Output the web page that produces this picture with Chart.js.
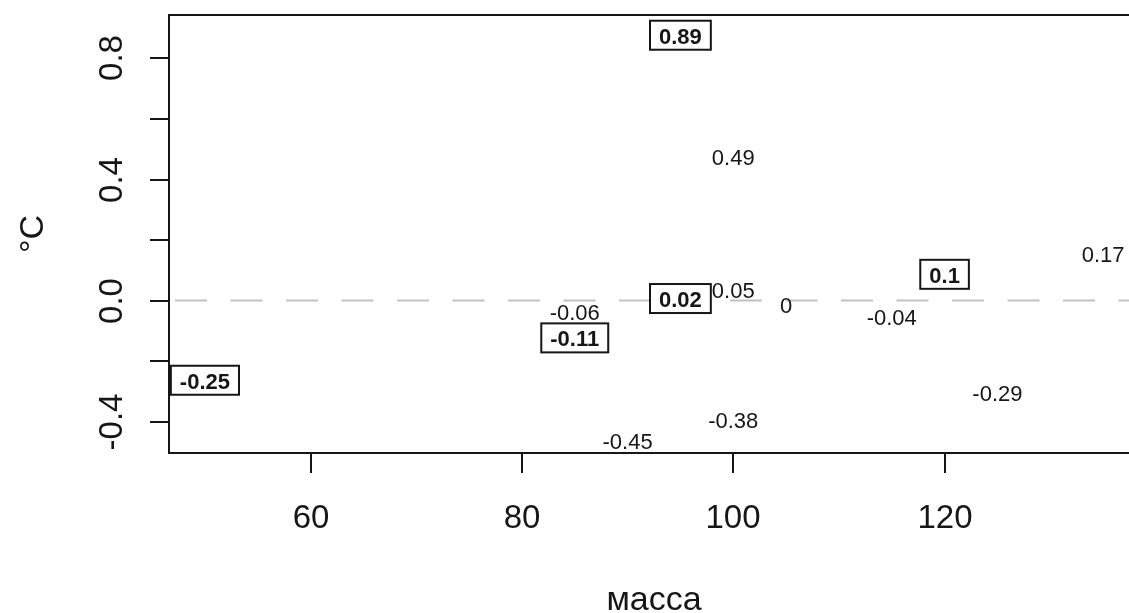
<!DOCTYPE html>
<html>
<head>
<meta charset="utf-8">
<script src="https://cdn.jsdelivr.net/npm/chart.js@4.4.1/dist/chart.umd.min.js"></script>
<style>
  html, body { margin: 0; padding: 0; background: #ffffff; overflow: hidden; }
  #wrap { position: relative; width: 1180px; height: 613px; }
</style>
</head>
<body>
<div id="wrap"><canvas id="chart"></canvas></div>
<script>
// Mass of each sample and its temperature deviation (°C)
const masses = [50, 85, 85, 90, 95, 95, 100, 100, 100, 105, 115, 120, 125, 135];
const deltas = [-0.25, -0.06, -0.11, -0.45, 0.89, 0.02, 0.49, 0.05, -0.38, 0, -0.04, 0.1, -0.29, 0.17];
// Samples whose label is shown in a framed, bold box
const highlighted = [true, false, true, false, true, true, false, false, false, false, false, true, false, false];

// Axis ticks
const xTicks = [60, 80, 100, 120];
const yTicks = [-0.4, -0.2, 0, 0.2, 0.4, 0.6, 0.8];
const yTickLabels = ['-0.4', '', '0.0', '', '0.4', '', '0.8'];

const xTitle = 'масса';
const yTitle = '°C';

// Axis limits padded by 4% of the data range on each side
function paddedRange(values) {
  const lo = Math.min(...values), hi = Math.max(...values);
  const pad = (hi - lo) * 0.04;
  return [lo - pad, hi + pad];
}
const [xMin, xMax] = paddedRange(masses);
const [yMin, yMax] = paddedRange(deltas);

const FONT = '"Liberation Sans", Arial, Helvetica, sans-serif';
const INK = '#161616';

// Frame, tick marks, tick labels and axis titles
const frameAxes = {
  id: 'frameAxes',
  beforeDatasetsDraw(chart) {
    const { ctx, chartArea: ca, scales: { x, y } } = chart;
    ctx.save();
    ctx.strokeStyle = INK;
    ctx.fillStyle = INK;
    ctx.lineWidth = 2;
    ctx.strokeRect(ca.left, ca.top, ca.right - ca.left, ca.bottom - ca.top);

    ctx.font = '33px ' + FONT;
    ctx.textAlign = 'center';
    ctx.textBaseline = 'alphabetic';
    xTicks.forEach(v => {
      const px = Math.round(x.getPixelForValue(v));
      ctx.beginPath();
      ctx.moveTo(px, ca.bottom);
      ctx.lineTo(px, ca.bottom + 20);
      ctx.stroke();
      ctx.fillText(String(v), px, ca.bottom + 75);
    });

    yTicks.forEach((v, i) => {
      const py = Math.round(y.getPixelForValue(v));
      ctx.beginPath();
      ctx.moveTo(ca.left - 19, py);
      ctx.lineTo(ca.left, py);
      ctx.stroke();
      if (yTickLabels[i]) {
        ctx.save();
        ctx.translate(ca.left - 47, py);
        ctx.rotate(-Math.PI / 2);
        ctx.fillText(yTickLabels[i], 0, 0);
        ctx.restore();
      }
    });

    ctx.font = '34px ' + FONT;
    ctx.fillText(xTitle, (ca.left + ca.right) / 2, 610);
    ctx.save();
    ctx.translate(43, (ca.top + ca.bottom) / 2);
    ctx.rotate(-Math.PI / 2);
    ctx.fillText(yTitle, 0, 0);
    ctx.restore();
    ctx.restore();
  }
};

// Value labels at each sample position
const valueLabels = {
  id: 'valueLabels',
  afterDatasetsDraw(chart) {
    const { ctx } = chart;
    const meta = chart.getDatasetMeta(1);
    const size = 22, cap = 16, padX = 9, padTop = 7, padBottom = 6;
    ctx.save();
    ctx.textAlign = 'center';
    ctx.textBaseline = 'alphabetic';

    const items = meta.data.map((pt, i) => {
      const text = String(deltas[i]);
      const boxed = highlighted[i];
      ctx.font = (boxed ? 'bold ' : '') + size + 'px ' + FONT;
      const w = ctx.measureText(text).width;
      return { text, boxed, x: pt.x, base: pt.y + 12.5, w };
    });

    const boxes = items.filter(it => it.boxed).map(it => ({
      l: it.x - it.w / 2 - padX, r: it.x + it.w / 2 + padX,
      t: it.base - cap - padTop, b: it.base + padBottom
    }));

    // Lift plain labels that would run into a framed label
    items.forEach(it => {
      if (it.boxed) return;
      boxes.forEach(bx => {
        const l = it.x - it.w / 2, r = it.x + it.w / 2;
        const t = it.base - cap, b = it.base;
        if (l < bx.r && r > bx.l && t < bx.b && b > bx.t - 2) {
          it.base = bx.t - 3;
        }
      });
    });

    items.forEach(it => {
      ctx.font = (it.boxed ? 'bold ' : '') + size + 'px ' + FONT;
      if (it.boxed) {
        const l = it.x - it.w / 2 - padX, t = it.base - cap - padTop;
        const w = it.w + 2 * padX, h = cap + padTop + padBottom;
        ctx.fillStyle = '#ffffff';
        ctx.fillRect(l, t, w, h);
        ctx.strokeStyle = INK;
        ctx.lineWidth = 2;
        ctx.strokeRect(l, t, w, h);
      }
      ctx.fillStyle = INK;
      ctx.fillText(it.text, it.x, it.base);
    });
    ctx.restore();
  }
};

new Chart(document.getElementById('chart'), {
  type: 'scatter',
  data: {
    datasets: [
      {
        // zero reference line
        type: 'line',
        data: [{ x: xMin, y: 0 }, { x: xMax, y: 0 }],
        borderColor: '#c2c2c2',
        borderWidth: 2,
        borderDash: [32, 23.5],
        borderDashOffset: -6,
        pointRadius: 0,
        fill: false
      },
      {
        data: masses.map((m, i) => ({ x: m, y: deltas[i] })),
        pointRadius: 0,
        pointHoverRadius: 0,
        showLine: false
      }
    ]
  },
  options: {
    responsive: true,
    maintainAspectRatio: false,
    animation: false,
    events: [],
    layout: { padding: { left: 169, top: 15, right: 41, bottom: 160 } },
    plugins: { legend: { display: false }, tooltip: { enabled: false } },
    scales: {
      x: { type: 'linear', min: xMin, max: xMax, display: false },
      y: { type: 'linear', min: yMin, max: yMax, display: false }
    }
  },
  plugins: [frameAxes, valueLabels]
});
</script>
</body>
</html>
